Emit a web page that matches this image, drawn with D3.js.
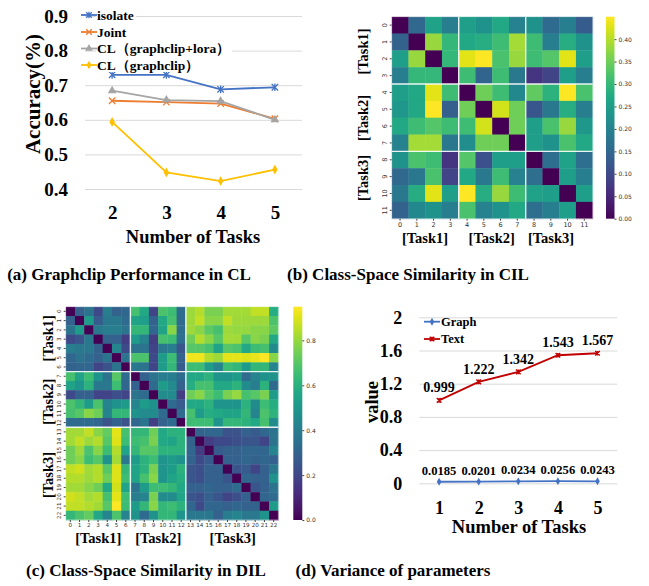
<!DOCTYPE html>
<html><head><meta charset="utf-8">
<script src="https://cdn.jsdelivr.net/npm/d3@7"></script>
<style>
body{margin:0;background:#fff;}
svg{display:block;}
text{font-family:"Liberation Serif","Times New Roman",serif;}
</style></head>
<body>
<svg id="c" width="649" height="586"></svg>
<script>
// ---------- (a) Graphclip performance in CL ----------
const aTasks = [2, 3, 4, 5];
const aIsolate = [0.730, 0.730, 0.688, 0.694];
const aJoint = [0.655, 0.651, 0.647, 0.603];
const aClLora = [0.684, 0.657, 0.654, 0.600];
const aClGraphclip = [0.594, 0.448, 0.423, 0.456];
const aYTicks = [0.4, 0.5, 0.6, 0.7, 0.8, 0.9];
const aSeriesNames = ["isolate", "Joint", "CL（graphclip+lora）", "CL（graphclip）"];

// ---------- (b) Class-space similarity in CIL ----------
const bTicks = [0,1,2,3,4,5,6,7,8,9,10,11];
const bColorTicks = [0, 0.05, 0.10, 0.15, 0.20, 0.25, 0.30, 0.35, 0.40];
const bGroups = ["[Task1]", "[Task2]", "[Task3]"];
const bRow0 = [0,0.15,0.26,0.19,0.25,0.23,0.27,0.20,0.23,0.155,0.19,0.13];
const bRow1 = [0.14,0,0.38,0.30,0.27,0.28,0.31,0.39,0.31,0.19,0.28,0.23];
const bRow2 = [0.25,0.38,0,0.30,0.43,0.45,0.32,0.38,0.31,0.33,0.43,0.25];
const bRow3 = [0.19,0.30,0.30,0,0.31,0.145,0.31,0.18,0.07,0.09,0.25,0.19];
const bRow4 = [0.25,0.27,0.43,0.31,0,0.35,0.31,0.21,0.34,0.29,0.45,0.32];
const bRow5 = [0.24,0.27,0.45,0.135,0.35,0,0.42,0.35,0.12,0.18,0.28,0.19];
const bRow6 = [0.27,0.31,0.33,0.31,0.31,0.42,0,0.35,0.25,0.32,0.38,0.24];
const bRow7 = [0.20,0.39,0.39,0.18,0.22,0.35,0.35,0,0.25,0.23,0.32,0.27];
const bRow8 = [0.23,0.32,0.31,0.07,0.33,0.11,0.25,0.25,0,0.16,0.26,0.16];
const bRow9 = [0.15,0.18,0.32,0.09,0.27,0.18,0.31,0.20,0.16,0,0.25,0.19];
const bRow10 = [0.18,0.28,0.43,0.25,0.45,0.28,0.38,0.31,0.26,0.25,0,0.25];
const bRow11 = [0.14,0.21,0.23,0.19,0.32,0.20,0.23,0.27,0.16,0.19,0.25,0];
const bMatrix = [bRow0,bRow1,bRow2,bRow3,bRow4,bRow5,bRow6,bRow7,bRow8,bRow9,bRow10,bRow11];
const bGroupEdges = [4, 8];

// ---------- (c) Class-space similarity in DIL ----------
const cTicks = [0,1,2,3,4,5,6,7,8,9,10,11,12,13,14,15,16,17,18,19,20,21,22];
const cColorTicks = [0, 0.2, 0.4, 0.6, 0.8];
const cRow0 = [0,0.29,0.36,0.21,0.40,0.30,0.31,0.67,0.57,0.19,0.68,0.65,0.33,0.81,0.84,0.76,0.76,0.82,0.82,0.82,0.86,0.86,0.59];
const cRow1 = [0.29,0,0.52,0.27,0.38,0.38,0.33,0.55,0.53,0.30,0.57,0.67,0.33,0.81,0.86,0.78,0.78,0.86,0.81,0.81,0.81,0.81,0.68];
const cRow2 = [0.36,0.52,0,0.38,0.40,0.40,0.36,0.63,0.63,0.31,0.55,0.78,0.34,0.81,0.78,0.71,0.67,0.81,0.80,0.80,0.78,0.78,0.71];
const cRow3 = [0.21,0.25,0.38,0,0.30,0.29,0.17,0.52,0.43,0.17,0.67,0.65,0.34,0.74,0.84,0.78,0.70,0.82,0.82,0.70,0.78,0.76,0.57];
const cRow4 = [0.40,0.38,0.38,0.30,0,0.43,0.21,0.36,0.36,0.19,0.38,0.40,0.25,0.70,0.70,0.67,0.55,0.70,0.68,0.57,0.65,0.67,0.46];
const cRow5 = [0.31,0.36,0.33,0.29,0.36,0,0.36,0.68,0.68,0.21,0.52,0.65,0.29,0.93,0.93,0.84,0.81,0.91,0.91,0.90,0.92,0.95,0.78];
const cRow6 = [0.30,0.31,0.31,0.19,0.24,0.36,0,0.38,0.36,0.19,0.52,0.63,0.27,0.65,0.65,0.52,0.43,0.65,0.63,0.52,0.63,0.63,0.43];
const cRow7 = [0.67,0.55,0.65,0.49,0.36,0.70,0.33,0,0.29,0.36,0.40,0.40,0.33,0.57,0.57,0.61,0.49,0.49,0.52,0.33,0.43,0.48,0.48];
const cRow8 = [0.55,0.49,0.61,0.38,0.38,0.65,0.31,0.29,0,0.33,0.52,0.45,0.29,0.59,0.67,0.67,0.57,0.57,0.61,0.46,0.40,0.61,0.32];
const cRow9 = [0.21,0.29,0.29,0.19,0.19,0.23,0.19,0.36,0.33,0,0.46,0.45,0.17,0.74,0.78,0.70,0.65,0.76,0.80,0.67,0.70,0.76,0.52];
const cRow10 = [0.68,0.63,0.52,0.68,0.43,0.48,0.52,0.43,0.52,0.48,0,0.33,0.27,0.57,0.57,0.61,0.49,0.49,0.49,0.61,0.46,0.65,0.59];
const cRow11 = [0.67,0.70,0.78,0.74,0.43,0.63,0.63,0.48,0.45,0.46,0.33,0,0.33,0.67,0.52,0.59,0.57,0.55,0.55,0.63,0.43,0.68,0.61];
const cRow12 = [0.33,0.33,0.33,0.31,0.24,0.29,0.24,0.31,0.36,0.17,0.29,0.33,0,0.65,0.65,0.65,0.49,0.63,0.63,0.61,0.57,0.67,0.46];
const cRow13 = [0.82,0.82,0.86,0.78,0.72,0.91,0.67,0.63,0.63,0.74,0.57,0.61,0.61,0,0.30,0.31,0.31,0.24,0.24,0.29,0.27,0.31,0.36];
const cRow14 = [0.82,0.86,0.81,0.84,0.70,0.90,0.65,0.65,0.67,0.76,0.57,0.55,0.61,0.30,0,0.17,0.21,0.21,0.23,0.25,0.25,0.19,0.36];
const cRow15 = [0.74,0.81,0.68,0.78,0.65,0.84,0.55,0.63,0.70,0.70,0.61,0.61,0.61,0.31,0.17,0,0.27,0.29,0.29,0.31,0.31,0.31,0.43];
const cRow16 = [0.74,0.78,0.65,0.70,0.48,0.82,0.38,0.52,0.61,0.65,0.49,0.52,0.48,0.30,0.21,0.27,0,0.29,0.29,0.31,0.30,0.31,0.29];
const cRow17 = [0.86,0.88,0.82,0.84,0.70,0.90,0.63,0.55,0.61,0.76,0.49,0.52,0.61,0.25,0.23,0.29,0.29,0,0.25,0.27,0.19,0.29,0.38];
const cRow18 = [0.84,0.84,0.81,0.84,0.74,0.90,0.65,0.55,0.67,0.78,0.49,0.55,0.59,0.25,0.23,0.29,0.29,0.25,0,0.31,0.29,0.29,0.48];
const cRow19 = [0.82,0.82,0.78,0.74,0.57,0.88,0.55,0.36,0.52,0.65,0.65,0.63,0.57,0.29,0.29,0.31,0.29,0.29,0.33,0,0.25,0.29,0.36];
const cRow20 = [0.88,0.86,0.82,0.84,0.67,0.91,0.65,0.40,0.43,0.76,0.46,0.46,0.55,0.25,0.23,0.29,0.25,0.19,0.23,0.29,0,0.31,0.33];
const cRow21 = [0.86,0.86,0.84,0.82,0.70,0.95,0.65,0.52,0.63,0.78,0.63,0.65,0.61,0.31,0.21,0.31,0.31,0.29,0.31,0.29,0.30,0,0.52];
const cRow22 = [0.63,0.68,0.72,0.57,0.43,0.68,0.43,0.48,0.33,0.48,0.63,0.63,0.49,0.38,0.38,0.38,0.29,0.40,0.43,0.38,0.38,0.48,0];
const cMatrix = [cRow0,cRow1,cRow2,cRow3,cRow4,cRow5,cRow6,cRow7,cRow8,cRow9,cRow10,cRow11,cRow12,cRow13,cRow14,cRow15,cRow16,cRow17,cRow18,cRow19,cRow20,cRow21,cRow22];
const cGroupEdges = [7, 13];

// ---------- (d) Variance of parameters ----------
const dTasks = [1, 2, 3, 4, 5];
const dGraph = [0.0185, 0.0201, 0.0234, 0.0256, 0.0243];
const dText = [0.999, 1.222, 1.342, 1.543, 1.567];
const dYTicks = [0, 0.4, 0.8, 1.2, 1.6, 2];
const dSeriesNames = ["Graph", "Text"];

const captions = ["(a) Graphclip Performance in CL", "(b) Class-Space Similarity in CIL",
                  "(c) Class-Space Similarity in DIL", "(d) Variance of parameters"];

const svg = d3.select("#c");
const BOLD = "bold";

// ===== Panel (a) =====
(function(){
  const g = svg.append("g");
  const x = d3.scalePoint().domain(aTasks).range([85, 302]).padding(0.5);
  const y = d3.scaleLinear().domain([0.4, 0.9]).range([189, 16]);
  const yAx = g.append("g").attr("transform","translate(85,0)")
    .call(d3.axisLeft(y).tickValues(aYTicks).tickSize(-217).tickPadding(17).tickFormat(d3.format(".1f")));
  yAx.select(".domain").remove();
  yAx.selectAll("line").attr("stroke","#d9d9d9").attr("stroke-width",1);
  yAx.selectAll("text").attr("font-size",19).attr("font-weight",BOLD).attr("fill","#000")
     .style("font-family","Liberation Serif");
  const xAx = g.append("g").attr("transform","translate(0,189)")
    .call(d3.axisBottom(x).tickSize(0).tickPadding(17));
  xAx.select(".domain").remove();
  xAx.selectAll("text").attr("font-size",19).attr("font-weight",BOLD).attr("fill","#000")
     .style("font-family","Liberation Serif");
  g.append("text").attr("x",193).attr("y",243).attr("text-anchor","middle")
    .attr("font-size",18.5).attr("font-weight",BOLD).text("Number of Tasks");
  g.append("text").attr("transform","translate(40,94) rotate(-90)").attr("text-anchor","middle")
    .attr("font-size",21).attr("font-weight",BOLD).text("Accuracy(%)");

  const series = [
    {name:aSeriesNames[0], vals:aIsolate, color:"#4472c4", marker:"star"},
    {name:aSeriesNames[1], vals:aJoint, color:"#ed7d31", marker:"x"},
    {name:aSeriesNames[2], vals:aClLora, color:"#a5a5a5", marker:"tri"},
    {name:aSeriesNames[3], vals:aClGraphclip, color:"#ffc000", marker:"dia"}
  ];
  const line = d3.line().x((d,i)=>x(aTasks[i])).y(d=>y(d));
  function marker(sel, type, color, s){
    if(type==="star"){
      sel.append("path").attr("d",`M${-s},${-s}L${s},${s}M${-s},${s}L${s},${-s}M0,${-s*1.2}L0,${s*1.2}`)
        .attr("stroke",color).attr("stroke-width",1.3).attr("fill","none");
    } else if(type==="x"){
      sel.append("path").attr("d",`M${-s},${-s}L${s},${s}M${-s},${s}L${s},${-s}`)
        .attr("stroke",color).attr("stroke-width",1.3).attr("fill","none");
    } else if(type==="tri"){
      sel.append("path").attr("d",d3.symbol(d3.symbolTriangle, s*s*3.2)).attr("fill",color);
    } else {
      sel.append("path").attr("d",d3.symbol(d3.symbolDiamond, s*s*2.6)).attr("fill",color);
    }
  }
  series.forEach(s=>{
    g.append("path").datum(s.vals).attr("d",line).attr("fill","none")
      .attr("stroke",s.color).attr("stroke-width",1.8);
    s.vals.forEach((v,i)=>{
      const m = g.append("g").attr("transform",`translate(${x(aTasks[i])},${y(v)})`);
      marker(m, s.marker, s.color, 3.2);
    });
  });
  // legend
  const ly = [15, 32, 48.5, 65];
  series.forEach((s,i)=>{
    const lg = g.append("g").attr("transform",`translate(81,${ly[i]})`);
    const t = lg.append("text").attr("x",16).attr("y",4.5).attr("font-size",13.5)
      .attr("font-weight",BOLD).text(s.name);
    const w = t.node().getComputedTextLength();
    lg.insert("rect","text").attr("x",15).attr("y",-8).attr("width",w+3).attr("height",15).attr("fill","#fff");
    lg.append("line").attr("x1",0).attr("x2",16).attr("stroke",s.color).attr("stroke-width",1.8);
    const m = lg.append("g").attr("transform","translate(8,0)");
    marker(m, s.marker, s.color, 2.8);
  });
})();

// ===== Heatmap helper =====
function heatmap(opt){
  const g = svg.append("g");
  const x = d3.scaleBand().domain(opt.ticks).range([opt.x0, opt.x1]);
  const y = d3.scaleBand().domain(opt.ticks).range([opt.y0, opt.y1]);
  const col = d3.scaleSequential(d3.interpolateViridis).domain([0, opt.vmax]);
  opt.matrix.forEach((row,r)=>{
    g.selectAll(null).data(row).enter().append("rect")
      .attr("x",(d,c)=>x(opt.ticks[c])).attr("y",y(opt.ticks[r]))
      .attr("width",x.bandwidth()+0.4).attr("height",y.bandwidth()+0.4)
      .attr("fill",d=>col(d));
  });
  opt.edges.forEach(e=>{
    const px = x(opt.ticks[e]);
    g.append("line").attr("x1",px).attr("x2",px).attr("y1",opt.y0).attr("y2",opt.y1)
      .attr("stroke","#fff").attr("stroke-width",1.4).attr("opacity",0.9);
    const py = y(opt.ticks[e]);
    g.append("line").attr("y1",py).attr("y2",py).attr("x1",opt.x0).attr("x2",opt.x1)
      .attr("stroke","#fff").attr("stroke-width",1.4).attr("opacity",0.9);
  });
  g.append("rect").attr("x",opt.x0).attr("y",opt.y0).attr("width",opt.x1-opt.x0).attr("height",opt.y1-opt.y0)
    .attr("fill","none").attr("stroke","#fff").attr("stroke-width",0.8).attr("opacity",0.6);
  // tick labels
  const xa = g.append("g").attr("transform",`translate(0,${opt.y1})`)
    .call(d3.axisBottom(x).tickSize(2).tickPadding(1.5));
  xa.select(".domain").remove();
  xa.selectAll("line").attr("stroke","#444");
  xa.selectAll("text").attr("font-size",opt.tickFont).attr("fill","#333").style("font-family","DejaVu Sans");
  const ya = g.append("g").attr("transform",`translate(${opt.x0},0)`)
    .call(d3.axisLeft(y).tickSize(2).tickPadding(2));
  ya.select(".domain").remove();
  ya.selectAll("line").attr("stroke","#444");
  ya.selectAll("text").attr("font-size",opt.tickFont).attr("fill","#333").style("font-family","DejaVu Sans")
    .attr("text-anchor","middle").attr("dy",0)
    .attr("transform",`translate(${-2.5-opt.tickFont*0.4},0) rotate(-90)`)
    .attr("x",0).attr("y",0);
  // colorbar
  const gid = "grad"+opt.id;
  const grad = svg.append("defs").append("linearGradient").attr("id",gid)
    .attr("x1",0).attr("x2",0).attr("y1",1).attr("y2",0);
  d3.range(0,1.0001,0.05).forEach(t=>grad.append("stop").attr("offset",t).attr("stop-color",d3.interpolateViridis(t)));
  g.append("rect").attr("x",opt.cbx).attr("y",opt.y0).attr("width",opt.cbw).attr("height",opt.y1-opt.y0)
    .attr("fill",`url(#${gid})`);
  const cs = d3.scaleLinear().domain([0,opt.vmax]).range([opt.y1,opt.y0]);
  const ca = g.append("g").attr("transform",`translate(${opt.cbx+opt.cbw},0)`)
    .call(d3.axisRight(cs).tickValues(opt.cticks).tickFormat(d3.format(opt.cfmt)).tickSize(2).tickPadding(2));
  ca.select(".domain").remove();
  ca.selectAll("line").attr("stroke","#444");
  ca.selectAll("text").attr("font-size",opt.cbFont).attr("fill","#333").style("font-family","DejaVu Sans");
  // group labels
  opt.groups.forEach((lab,i)=>{
    g.append("text").attr("x",opt.gx[i]).attr("y",opt.gyb).attr("text-anchor","middle")
      .attr("font-size",14.5).attr("font-weight",BOLD).text(lab);
    g.append("text").attr("transform",`translate(${opt.gxl},${opt.gy[i]}) rotate(-90)`).attr("text-anchor","middle")
      .attr("font-size",14.5).attr("font-weight",BOLD).text(lab);
  });
}

heatmap({id:"b", matrix:bMatrix, ticks:bTicks, x0:391.7, x1:592.7, y0:16.7, y1:218.7, vmax:0.45,
  edges:bGroupEdges, tickFont:6.5, cbFont:6, cbx:606, cbw:8.5, cticks:bColorTicks, cfmt:".2f",
  groups:bGroups, gx:[425,491.7,551], gyb:243, gxl:368, gy:[51.5,118,178]});

heatmap({id:"c", matrix:cMatrix, ticks:cTicks, x0:65.7, x1:278.3, y0:306.7, y1:520, vmax:0.95,
  edges:cGroupEdges, tickFont:5.6, cbFont:6, cbx:293.3, cbw:9, cticks:cColorTicks, cfmt:".1f",
  groups:bGroups, gx:[98.3,158.3,232.7], gyb:543, gxl:53, gy:[338.3,401.7,475]});

// ===== Panel (d) =====
(function(){
  const g = svg.append("g");
  const x = d3.scalePoint().domain(dTasks).range([419.3, 617.3]).padding(0.5);
  const y = d3.scaleLinear().domain([0, 2]).range([483.3, 317.3]);
  const yAx = g.append("g").attr("transform","translate(419.3,0)")
    .call(d3.axisLeft(y).tickValues(dYTicks).tickSize(-198).tickPadding(17).tickFormat(d=>d3.format("")(d)));
  yAx.select(".domain").remove();
  yAx.selectAll("line").attr("stroke","#d9d9d9");
  yAx.selectAll("text").attr("font-size",18).attr("font-weight",BOLD).attr("fill","#000").style("font-family","Liberation Serif");
  const xAx = g.append("g").attr("transform","translate(0,483.3)")
    .call(d3.axisBottom(x).tickSize(0).tickPadding(18));
  xAx.select(".domain").remove();
  xAx.selectAll("text").attr("font-size",18).attr("font-weight",BOLD).attr("fill","#000").style("font-family","Liberation Serif");
  g.append("text").attr("x",519).attr("y",533).attr("text-anchor","middle")
    .attr("font-size",18.5).attr("font-weight",BOLD).text("Number of Tasks");
  g.append("text").attr("transform","translate(378,402) rotate(-90)").attr("text-anchor","middle")
    .attr("font-size",18.5).attr("font-weight",BOLD).text("value");

  const line = d3.line().x((d,i)=>x(dTasks[i])).y(d=>y(d));
  const blue = "#4472c4", red = "#c00000";
  g.append("path").datum(dGraph).attr("d",line).attr("fill","none").attr("stroke",blue).attr("stroke-width",1.8);
  g.append("path").datum(dText).attr("d",line).attr("fill","none").attr("stroke",red).attr("stroke-width",1.8);
  function dia(sel,cx,cy){ sel.append("path").attr("transform",`translate(${cx},${cy})`)
      .attr("d",d3.symbol(d3.symbolDiamond,18)).attr("fill",blue); }
  function xm(sel,cx,cy){ const s=2.3; sel.append("path").attr("transform",`translate(${cx},${cy})`)
      .attr("d",`M${-s},${-s}L${s},${s}M${-s},${s}L${s},${-s}M0,${-s}L0,${s}`).attr("stroke",red).attr("stroke-width",1.4); }
  dGraph.forEach((v,i)=>{
    dia(g,x(dTasks[i]),y(v));
    g.append("text").attr("x",x(dTasks[i])).attr("y",y(v)-7).attr("text-anchor","middle")
      .attr("font-size",12.6).attr("font-weight",BOLD).text(d3.format("")(v));
  });
  dText.forEach((v,i)=>{
    xm(g,x(dTasks[i]),y(v));
    g.append("text").attr("x",x(dTasks[i])).attr("y",y(v)-8).attr("text-anchor","middle")
      .attr("font-size",14).attr("font-weight",BOLD).text(d3.format(".3f")(v));
  });
  // legend
  [[dSeriesNames[0],blue,321.7,"d"],[dSeriesNames[1],red,339,"x"]].forEach(([nm,c,yy,t])=>{
    g.append("line").attr("x1",424).attr("x2",440).attr("y1",yy).attr("y2",yy).attr("stroke",c).attr("stroke-width",1.8);
    if(t==="d") dia(g,432,yy); else xm(g,432,yy);
    g.append("text").attr("x",441).attr("y",yy+4.3).attr("font-size",12.5).attr("font-weight",BOLD).text(nm);
  });
})();

// ===== Captions =====
[[129,280,captions[0]],[408,280,captions[1]],[146,576,captions[2]],[393,576,captions[3]]].forEach(([cx,cy,t])=>{
  svg.append("text").attr("x",cx).attr("y",cy).attr("text-anchor","middle")
    .attr("font-size",17).attr("font-weight",BOLD).text(t);
});
</script>
</body></html>
